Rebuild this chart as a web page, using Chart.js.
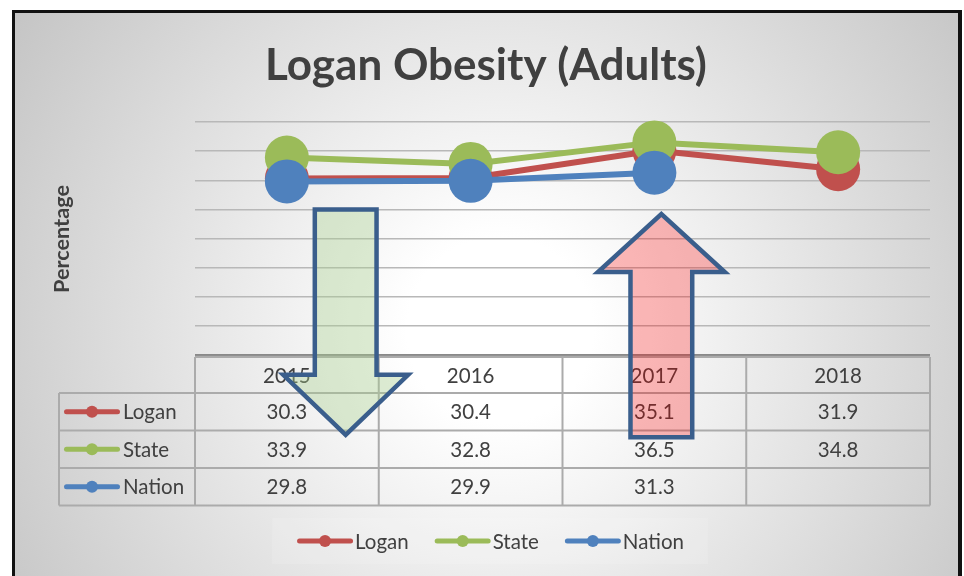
<!DOCTYPE html>
<html><head><meta charset="utf-8">
<script src="https://cdn.jsdelivr.net/npm/chart.js@4"></script>
<style>html,body{margin:0;padding:0;background:#fff;overflow:hidden}canvas{display:block}</style>
</head><body>
<canvas id="c" width="964" height="576"></canvas>
<script>
// ---- data ----
const years = ['2015', '2016', '2017', '2018'];
const logan = [30.3, 30.4, 35.1, 31.9];
const state = [33.9, 32.8, 36.5, 34.8];
const nation = [29.8, 29.9, 31.3, null];
const seriesNames = ['Logan', 'State', 'Nation'];
const yMin = 0, yMax = 40, yStep = 5;
const TITLE = 'Logan Obesity (Adults)';
const Y_TITLE = 'Percentage';

// ---- styles ----
const COLORS = ['#C0504D', '#9BBB59', '#4F81BD'];
const FONT = 'Lato, "Open Sans", sans-serif';
const TXT = '#404040';

// arrow annotations, in data units (x = category index, y = value)
const ARROWS = [
  {x: 0.32, shaftHalf: 0.168, headHalf: 0.34, tail: 25, headBase: -3.4, tip: -13.7, fill: 'rgba(169,208,142,0.38)'},
  {x: 2.038, shaftHalf: 0.168, headHalf: 0.345, tail: -14.1, headBase: 14.25, tip: 24.2, fill: 'rgba(255,0,0,0.27)'}
];

function fitSize(ctx, text, weight, width) {
  ctx.font = `${weight} 40px ${FONT}`;
  return 40 * width / ctx.measureText(text).width;
}

function drawSample(ctx, x1, x2, y, color) {
  ctx.save();
  ctx.strokeStyle = color; ctx.lineWidth = 5; ctx.lineCap = 'round';
  ctx.beginPath(); ctx.moveTo(x1 + 2.5, y); ctx.lineTo(x2 - 2.5, y); ctx.stroke();
  ctx.fillStyle = color;
  ctx.beginPath(); ctx.arc((x1 + x2) / 2, y, 6, 0, Math.PI * 2); ctx.fill();
  ctx.restore();
}

const decor = {
  id: 'decor',
  beforeDraw(chart) {
    const ctx = chart.ctx;
    ctx.save();
    ctx.fillStyle = '#fff'; ctx.fillRect(0, 0, 964, 576);
    ctx.fillStyle = '#111'; ctx.fillRect(12, 10, 950, 600);
    const g = ctx.createRadialGradient(500, 330, 0, 500, 330, 620);
    g.addColorStop(0, '#FFFFFF');
    g.addColorStop(0.15, '#FFFFFF');
    g.addColorStop(1, '#C0C0C0');
    ctx.fillStyle = g; ctx.fillRect(15, 13, 943, 600);
    ctx.restore();
  },
  afterDraw(chart) {
    const ctx = chart.ctx;
    const xs = chart.scales.x, ys = chart.scales.y;
    ctx.save();
    // title
    let s = fitSize(ctx, TITLE, 'bold', 442);
    ctx.font = `bold ${s}px ${FONT}`;
    ctx.fillStyle = TXT; ctx.textAlign = 'center'; ctx.textBaseline = 'alphabetic';
    ctx.fillText(TITLE, 486, 80);
    // y title
    s = fitSize(ctx, Y_TITLE, 'bold', 108);
    ctx.save();
    ctx.translate(62, 239); ctx.rotate(-Math.PI / 2);
    ctx.font = `bold ${s}px ${FONT}`; ctx.textBaseline = 'middle';
    ctx.fillText(Y_TITLE, 0, 0);
    ctx.restore();

    // data table
    const colW = xs.getPixelForValue(1) - xs.getPixelForValue(0);
    const left0 = xs.getPixelForValue(0) - colW / 2;
    const right = xs.getPixelForValue(years.length - 1) + colW / 2;
    const top = ys.bottom + 2;
    const rowY = [top, top + 36, top + 73.5, top + 111, top + 148.5];
    const legLeft = 59;
    ctx.strokeStyle = '#ABABAB'; ctx.lineWidth = 2;
    ctx.beginPath();
    ctx.moveTo(left0, rowY[0]); ctx.lineTo(right, rowY[0]);
    for (let r = 1; r < rowY.length; r++) { ctx.moveTo(legLeft, rowY[r]); ctx.lineTo(right, rowY[r]); }
    ctx.moveTo(legLeft, rowY[1]); ctx.lineTo(legLeft, rowY[4]);
    for (let i = 0; i <= years.length; i++) {
      const x = left0 + i * colW;
      ctx.moveTo(x, rowY[0]); ctx.lineTo(x, rowY[4]);
    }
    ctx.stroke();
    // axis line
    ctx.strokeStyle = '#7A7A7A'; ctx.lineWidth = 1.5;
    ctx.beginPath(); ctx.moveTo(left0, ys.bottom); ctx.lineTo(right, ys.bottom); ctx.stroke();

    ctx.font = `20.5px ${FONT}`; ctx.fillStyle = TXT; ctx.textAlign = 'center'; ctx.textBaseline = 'middle';
    years.forEach((yr, i) => ctx.fillText(yr, xs.getPixelForValue(i), (rowY[0] + rowY[1]) / 2 + 1));
    const series = [logan, state, nation];
    series.forEach((arr, r) => {
      const cy = (rowY[r + 1] + rowY[r + 2]) / 2 + 1;
      arr.forEach((v, i) => { if (v !== null) ctx.fillText(v.toFixed(1), xs.getPixelForValue(i), cy); });
      drawSample(ctx, legLeft + 5, legLeft + 61, cy - 1, COLORS[r]);
      ctx.textAlign = 'left';
      ctx.fillText(seriesNames[r], legLeft + 64, cy);
      ctx.textAlign = 'center';
    });

    // bottom legend
    const ly = 541;
    ctx.textAlign = 'left';
    const widths = seriesNames.map(n => ctx.measureText(n).width);
    const total = widths.reduce((a, b) => a + b, 0) + seriesNames.length * 59 + (seriesNames.length - 1) * 25;
    ctx.fillStyle = 'rgba(255,255,255,0.12)';
    ctx.fillRect(490 - total / 2 - 24, 518, total + 48, 46);
    let lx = 491 - total / 2;
    seriesNames.forEach((n, i) => {
      drawSample(ctx, lx, lx + 56, ly, COLORS[i]);
      ctx.fillStyle = TXT;
      ctx.fillText(n, lx + 58, ly + 1);
      lx += 58 + widths[i] + 26;
    });

    // arrows
    ARROWS.forEach(a => {
      const cx = xs.getPixelForValue(a.x);
      const sh = xs.getPixelForValue(a.x + a.shaftHalf) - cx;
      const hh = xs.getPixelForValue(a.x + a.headHalf) - cx;
      const yt = ys.getPixelForValue(a.tail), yb = ys.getPixelForValue(a.headBase), yp = ys.getPixelForValue(a.tip);
      ctx.beginPath();
      ctx.moveTo(cx - sh, yt); ctx.lineTo(cx + sh, yt);
      ctx.lineTo(cx + sh, yb); ctx.lineTo(cx + hh, yb);
      ctx.lineTo(cx, yp); ctx.lineTo(cx - hh, yb);
      ctx.lineTo(cx - sh, yb); ctx.closePath();
      ctx.fillStyle = a.fill; ctx.fill();
      ctx.strokeStyle = '#3A5E8C'; ctx.lineWidth = 4.5; ctx.lineJoin = 'miter';
      ctx.stroke();
    });
    ctx.restore();
  }
};

const mk = (label, data, i, order) => ({
  label, data, order,
  borderColor: COLORS[i], backgroundColor: COLORS[i],
  pointBackgroundColor: COLORS[i], pointBorderWidth: 0,
  pointRadius: 22, borderWidth: 6, tension: 0, clip: false, spanGaps: false
});

new Chart(document.getElementById('c'), {
  type: 'line',
  data: {
    labels: years,
    datasets: [mk(seriesNames[0], logan, 0, 2), mk(seriesNames[1], state, 1, 1), mk(seriesNames[2], nation, 2, 0)]
  },
  options: {
    responsive: false, animation: false, events: [],
    devicePixelRatio: 1,
    layout: {padding: {left: 195, right: 34, top: 122, bottom: 221}},
    plugins: {legend: {display: false}, title: {display: false}, tooltip: {enabled: false}},
    scales: {
      x: {display: false, offset: true},
      y: {
        min: yMin, max: yMax,
        ticks: {display: false, stepSize: yStep},
        grid: {color: '#B8B8B8', lineWidth: 1.5, drawTicks: false},
        border: {display: false}
      }
    }
  },
  plugins: [decor]
});
</script>
</body></html>
